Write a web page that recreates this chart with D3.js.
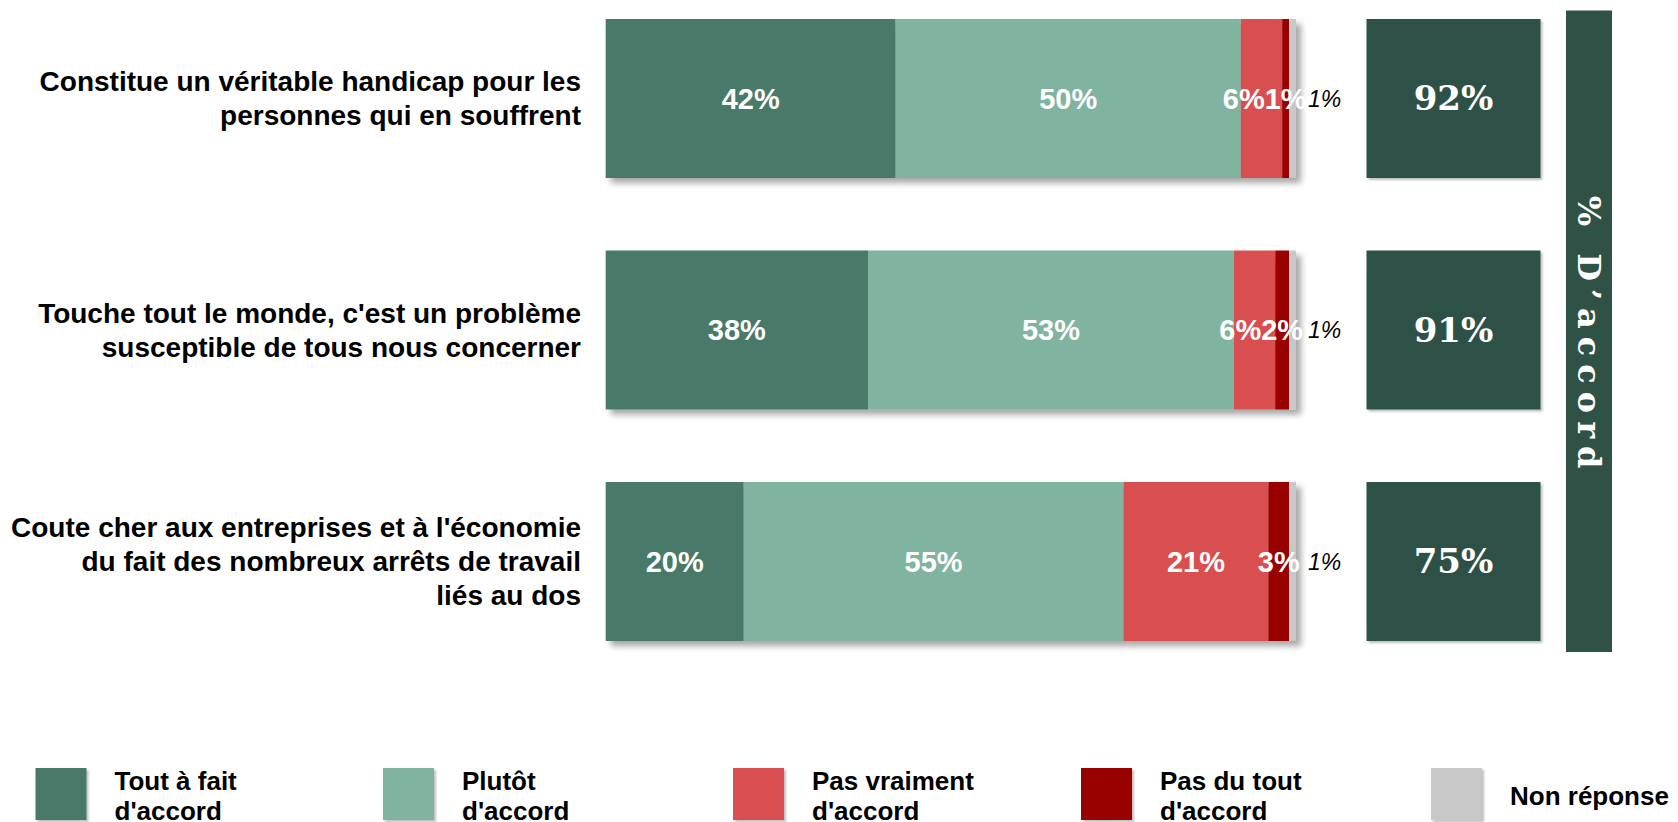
<!DOCTYPE html>
<html>
<head>
<meta charset="utf-8">
<script src="https://cdn.jsdelivr.net/npm/d3@7"></script>
<style>
  html, body { margin: 0; padding: 0; background: #fff; }
  svg { display: block; }
</style>
</head>
<body>
<div id="chart"></div>
<script>
// statements, already broken into lines like in the original
const statements = [
  ["Constitue un véritable handicap pour les", "personnes qui en souffrent"],
  ["Touche tout le monde, c'est un problème", "susceptible de tous nous concerner"],
  ["Coute cher aux entreprises et à l'économie", "du fait des nombreux arrêts de travail", "liés au dos"]
];

const seriesNames = ["Tout à fait d'accord", "Plutôt d'accord", "Pas vraiment d'accord", "Pas du tout d'accord", "Non réponse"];
const legendLines = [["Tout à fait", "d'accord"], ["Plutôt", "d'accord"], ["Pas vraiment", "d'accord"], ["Pas du tout", "d'accord"], ["Non réponse"]];
const colors = ["#4a7967", "#81b3a1", "#d94f50", "#990000", "#c8c8c8"];

const toutAFait   = [42, 38, 20];
const plutot      = [50, 53, 55];
const pasVraiment = [6, 6, 21];
const pasDuTout   = [1, 2, 3];
const nonReponse  = [1, 1, 1];
const totalAccord = [92, 91, 75];

const values = [toutAFait, plutot, pasVraiment, pasDuTout, nonReponse];

const width = 1678, height = 822;
const sansFont = "'Liberation Sans', Arial, sans-serif";
const serifFont = "'DejaVu Serif', Georgia, serif";

const svg = d3.select("#chart").append("svg")
    .attr("width", width)
    .attr("height", height);

const defs = svg.append("defs");
defs.append("filter").attr("id", "shadow")
    .attr("x", "-5%").attr("y", "-10%").attr("width", "115%").attr("height", "130%")
  .append("feDropShadow")
    .attr("dx", 5).attr("dy", 5).attr("stdDeviation", 3)
    .attr("flood-color", "#000").attr("flood-opacity", 0.35);
defs.append("filter").attr("id", "shadowSmall")
    .attr("x", "-10%").attr("y", "-10%").attr("width", "125%").attr("height", "125%")
  .append("feDropShadow")
    .attr("dx", 2).attr("dy", 2).attr("stdDeviation", 1.2)
    .attr("flood-color", "#000").attr("flood-opacity", 0.25);

const rows = d3.range(statements.length);

const x = d3.scaleLinear().domain([0, 100]).range([605.7, 1296]);
const y = d3.scaleBand().domain(rows).range([19, 641]).paddingInner(0.3132).paddingOuter(0);

// stack the series per row
const stackData = rows.map(r => {
  const o = { row: r };
  seriesNames.forEach((s, i) => { o[s] = values[i][r]; });
  return o;
});
const stacked = d3.stack().keys(seriesNames)(stackData);

// statement labels
const labelG = svg.append("g");
rows.forEach(r => {
  const lines = statements[r];
  const lh = 34;
  const cy = y(r) + y.bandwidth() / 2;
  lines.forEach((line, i) => {
    labelG.append("text")
        .attr("x", 581)
        .attr("y", cy + (i - (lines.length - 1) / 2) * lh)
        .attr("dy", "0.35em")
        .attr("text-anchor", "end")
        .style("font-family", sansFont)
        .style("font-weight", "bold")
        .style("font-size", "28px")
        .style("fill", "#000")
        .text(line);
  });
});

// bars
const barRows = svg.selectAll(".barRow")
    .data(rows)
    .enter().append("g")
    .attr("class", "barRow")
    .attr("filter", "url(#shadow)");

barRows.selectAll("rect")
    .data(r => stacked.map((layer, i) => ({ key: layer.key, i: i, v0: layer[r][0], v1: layer[r][1], r: r })))
    .enter().append("rect")
    .attr("x", d => x(d.v0))
    .attr("y", d => y(d.r))
    .attr("width", d => x(d.v1) - x(d.v0))
    .attr("height", y.bandwidth())
    .style("fill", d => colors[d.i]);

// value labels inside the bars
rows.forEach(r => {
  const cy = y(r) + y.bandwidth() / 2;
  const labels = [];
  stacked.forEach((layer, i) => {
    const v0 = layer[r][0], v1 = layer[r][1];
    if (i < 4) {
      const t = svg.append("text")
          .attr("x", x((v0 + v1) / 2))
          .attr("y", cy)
          .attr("dy", "0.35em")
          .attr("text-anchor", "middle")
          .style("font-family", sansFont)
          .style("font-weight", "bold")
          .style("font-size", "29px")
          .style("fill", "#fff")
          .text(values[i][r] + "%");
      labels.push({ node: t, cx: x((v0 + v1) / 2), w: t.node().getComputedTextLength() });
    } else {
      svg.append("text")
          .attr("x", x(v1) + 12)
          .attr("y", cy)
          .attr("dy", "0.35em")
          .style("font-family", sansFont)
          .style("font-style", "italic")
          .style("font-size", "23px")
          .style("fill", "#000")
          .text(values[i][r] + "%");
    }
  });
  // push overlapping labels to the left
  for (let k = labels.length - 2; k >= 0; k--) {
    const next = labels[k + 1];
    const cur = labels[k];
    const limit = next.cx - next.w / 2;
    if (cur.cx + cur.w / 2 > limit) {
      cur.cx = limit - cur.w / 2;
      cur.node.attr("x", cur.cx);
    }
  }
});

// "% d'accord" boxes
const boxX0 = 1366.5, boxX1 = 1540.5;
const boxes = svg.selectAll(".total")
    .data(rows)
    .enter().append("g")
    .attr("class", "total");

boxes.append("rect")
    .attr("x", boxX0)
    .attr("y", r => y(r))
    .attr("width", boxX1 - boxX0)
    .attr("height", y.bandwidth())
    .attr("filter", "url(#shadowSmall)")
    .style("fill", "#2f5146");

boxes.append("text")
    .attr("x", (boxX0 + boxX1) / 2)
    .attr("y", r => y(r) + y.bandwidth() / 2)
    .attr("dy", "0.35em")
    .attr("text-anchor", "middle")
    .style("font-family", serifFont)
    .style("font-weight", "bold")
    .style("font-size", "34px")
    .style("fill", "#fff")
    .text(r => totalAccord[r] + "%");

// vertical title bar
svg.append("rect")
    .attr("x", 1566)
    .attr("y", 10.5)
    .attr("width", 46)
    .attr("height", 641.5)
    .style("fill", "#2f5146");

svg.append("text")
    .attr("transform", "translate(1589," + 336 + ") rotate(90)")
    .attr("text-anchor", "middle")
    .attr("dy", "0.35em")
    .style("font-family", serifFont)
    .style("font-weight", "bold")
    .style("font-size", "32px")
    .style("letter-spacing", "8px")
    .style("fill", "#fff")
    .text("% D’accord");

// legend
const legendX = [35.5, 383, 733, 1081, 1431];
const legend = svg.selectAll(".legend")
    .data(seriesNames)
    .enter().append("g")
    .attr("class", "legend")
    .attr("transform", (d, i) => "translate(" + legendX[i] + ",768)");

legend.append("rect")
    .attr("width", 51)
    .attr("height", 52)
    .attr("filter", "url(#shadowSmall)")
    .style("fill", (d, i) => colors[i]);

legend.each(function(d, i) {
  const lines = legendLines[i];
  const g = d3.select(this);
  lines.forEach((line, k) => {
    g.append("text")
        .attr("x", 79)
        .attr("y", 28 + (k - (lines.length - 1) / 2) * 30)
        .attr("dy", "0.35em")
        .style("font-family", sansFont)
        .style("font-weight", "bold")
        .style("font-size", "26px")
        .style("fill", "#000")
        .text(line);
  });
});
</script>
</body>
</html>
